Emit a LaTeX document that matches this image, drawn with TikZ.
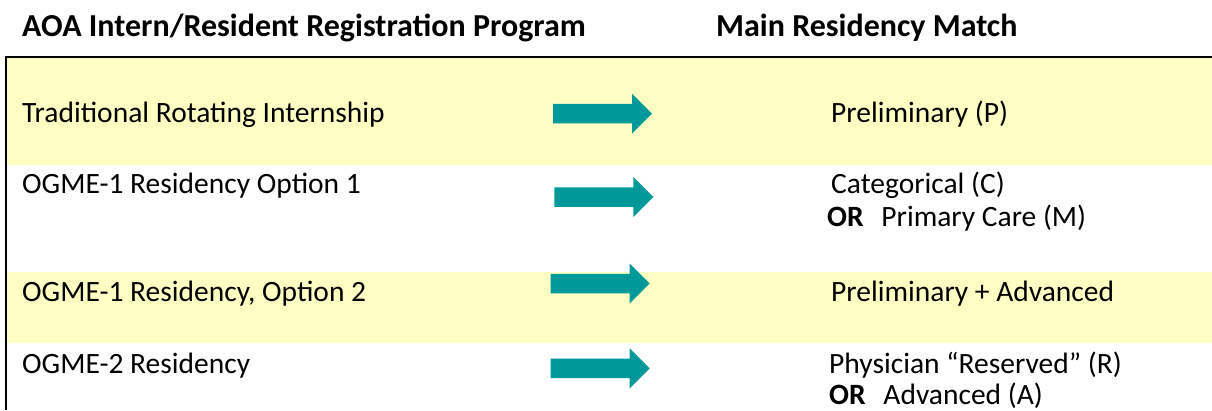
\documentclass[tikz,border=0pt]{standalone}
\usepackage{fontspec}
\setmainfont{Carlito}
\definecolor{bandyellow}{RGB}{255,255,196}
\definecolor{arrowteal}{RGB}{0,153,153}
\tikzset{
  body/.style={anchor=base west, inner sep=0pt, font=\fontsize{29.5}{34}\selectfont},
  head/.style={anchor=base west, inner sep=0pt, font=\fontsize{32}{38}\selectfont\bfseries},
  band/.style={fill=bandyellow, draw=none},
  frame/.style={draw=black, line width=2.5pt},
  blockarrow/.style={fill=arrowteal, draw=none}
}
\newcommand{\tealarrow}[2]{%
  \fill[blockarrow] (#1,#2) ++(0,-9.75) -- ++(79,0) -- ++(0,-10.25) -- ++(20,20) -- ++(-20,20) -- ++(0,-10.25) -- ++(-79,0) -- cycle;}
\begin{document}
\begin{tikzpicture}[x=1pt,y=-1pt]
\useasboundingbox (0,0) rectangle (1212,410);
\fill[white] (0,0) rectangle (1212,410);
% bands
\fill[band] (6,57) rectangle (1212,165);
\fill[band] (6,272) rectangle (1212,343);
% frame
\coordinate (tl) at (6,57);
\coordinate (tr) at (1212,57);
\coordinate (bl) at (6,410);
\draw[frame] (tr) -- (tl) -- (bl);
% headers
\node[head] (h1) at (22,36) {AOA Intern/Resident Registration Program};
\node[head] (h2) at (716,36) {Main Residency Match};
% left column
\node[body] (l1) at (22,122) {Traditional Rotating Internship};
\node[body] (l2) at (22,193) {OGME-1 Residency Option 1};
\node[body] (l3) at (22,301) {OGME-1 Residency, Option 2};
\node[body] (l4) at (22,373) {OGME-2 Residency};
% right column
\node[body] (r1) at (831,122) {Preliminary (P)};
\node[body] (r2) at (831,193) {Categorical (C)};
\node[body] (r2b) at (827,226) {\textbf{OR}\hspace{0.6em}Primary Care (M)};
\node[body] (r3) at (831,301) {Preliminary + Advanced};
\node[body] (r4) at (829,373) {Physician “Reserved” (R)};
\node[body] (r4b) at (829,404) {\textbf{OR}\hspace{0.6em}Advanced (A)};
% arrows
\tealarrow{553}{113.7}
\tealarrow{554.3}{197}
\tealarrow{550.7}{283.5}
\tealarrow{550.7}{368.3}
\end{tikzpicture}
\end{document}
